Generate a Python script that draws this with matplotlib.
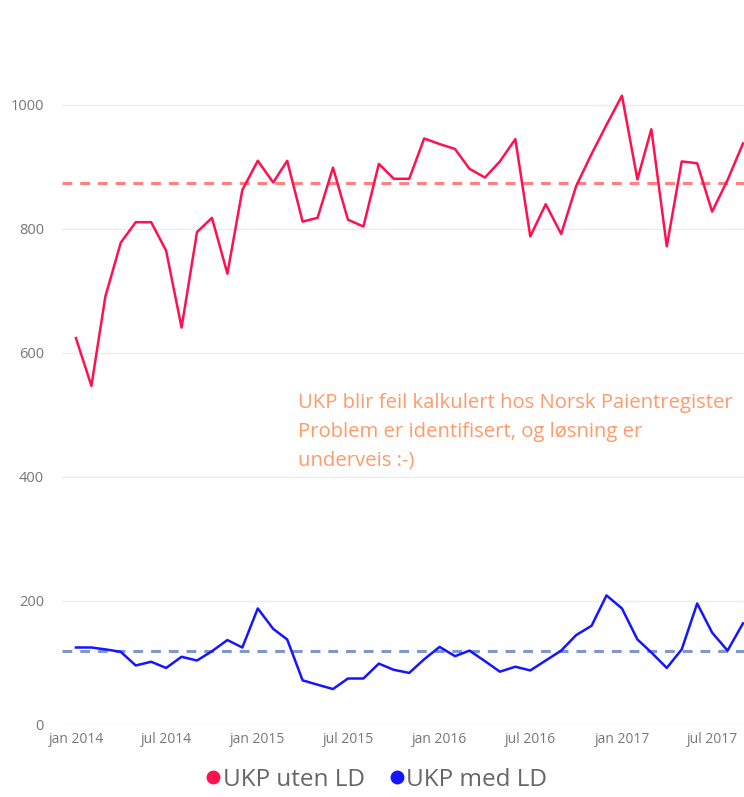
import matplotlib.pyplot as plt
import pandas as pd
from matplotlib.lines import Line2D

# Månedlige verdier jan 2014 - sep 2017
start_month = '2014-01-01'
n_months = 45

ukp_uten_ld = [624, 547, 691, 778, 811, 811, 765, 641, 795, 818, 728, 863,
               910, 875, 910, 812, 818, 899, 815, 804, 905, 881, 881, 946,
               937, 929, 897, 883, 909, 945, 788, 840, 792, 869, 921, 968,
               1015, 880, 961, 772, 909, 906, 828, 879, 938]

ukp_med_ld = [125, 125, 122, 118, 96, 102, 92, 110, 104, 119, 137, 125,
              188, 155, 138, 72, 65, 58, 75, 75, 99, 89, 84, 106,
              126, 111, 120, 103, 86, 94, 88, 104, 120, 145, 160, 209,
              188, 138, 117, 92, 122, 196, 149, 120, 164]

snitt_uten = 874
snitt_med = 120

tick_dates = ['2014-01-01', '2014-07-01', '2015-01-01', '2015-07-01',
              '2016-01-01', '2016-07-01', '2017-01-01', '2017-07-01']
tick_labels = ['jan 2014', 'jul 2014', 'jan 2015', 'jul 2015',
               'jan 2016', 'jul 2016', 'jan 2017', 'jul 2017']

note = ("UKP blir feil kalkulert hos Norsk Paientregister\n"
        "Problem er identifisert, og løsning er\n"
        "underveis :-)")

red = '#FF1150'
blue = '#1515FF'
grey = '#777777'

plt.rcParams['font.family'] = ['Open Sans', 'DejaVu Sans']

months = pd.date_range(start_month, periods=n_months, freq='MS')

fig = plt.figure(figsize=(7.44, 7.97), dpi=100)
ax = fig.add_axes([62 / 744, 72 / 797, 682 / 744, 651 / 797])

ax.plot(months, ukp_uten_ld, color=red, lw=1.8, zorder=3)
ax.plot(months, ukp_med_ld, color=blue, lw=1.8, zorder=3)
ax.axhline(snitt_uten, color='#FF8080', lw=2.2, ls=(0, (3.2, 2.6)), zorder=2)
ax.axhline(snitt_med, color='#8098C8', lw=2.2, ls=(0, (3.2, 2.6)), zorder=2)

ax.set_ylim(0, 1050)
ax.set_xlim(pd.Timestamp('2013-12-04'), pd.Timestamp('2017-09-03'))
ax.set_yticks([0, 200, 400, 600, 800, 1000])
ax.set_xticks(pd.to_datetime(tick_dates))
ax.set_xticklabels(tick_labels)
ax.tick_params(axis='both', length=0, colors=grey, labelsize=10)
ax.tick_params(axis='y', pad=13, labelsize=10.5)
ax.tick_params(axis='x', pad=5)
ax.grid(axis='y', color='#ebebeb', lw=1)
ax.set_axisbelow(True)
for s in ax.spines.values():
    s.set_visible(False)

ax.text(pd.Timestamp('2015-03-23'), 473, note, color='#FF9A6A', fontsize=14.6,
        va='center', ha='left', linespacing=1.6)

handles = [Line2D([], [], color=red, marker='o', ls='', markersize=9),
           Line2D([], [], color=blue, marker='o', ls='', markersize=9)]
fig.legend(handles, ['UKP uten LD', 'UKP med LD'], loc='center',
           bbox_to_anchor=(0.503, 17 / 797), ncol=2, frameon=False,
           fontsize=17.5, labelcolor='#666666', handletextpad=-0.1,
           columnspacing=0.8, handlelength=1.0)

fig.savefig('out.png', dpi=100)
